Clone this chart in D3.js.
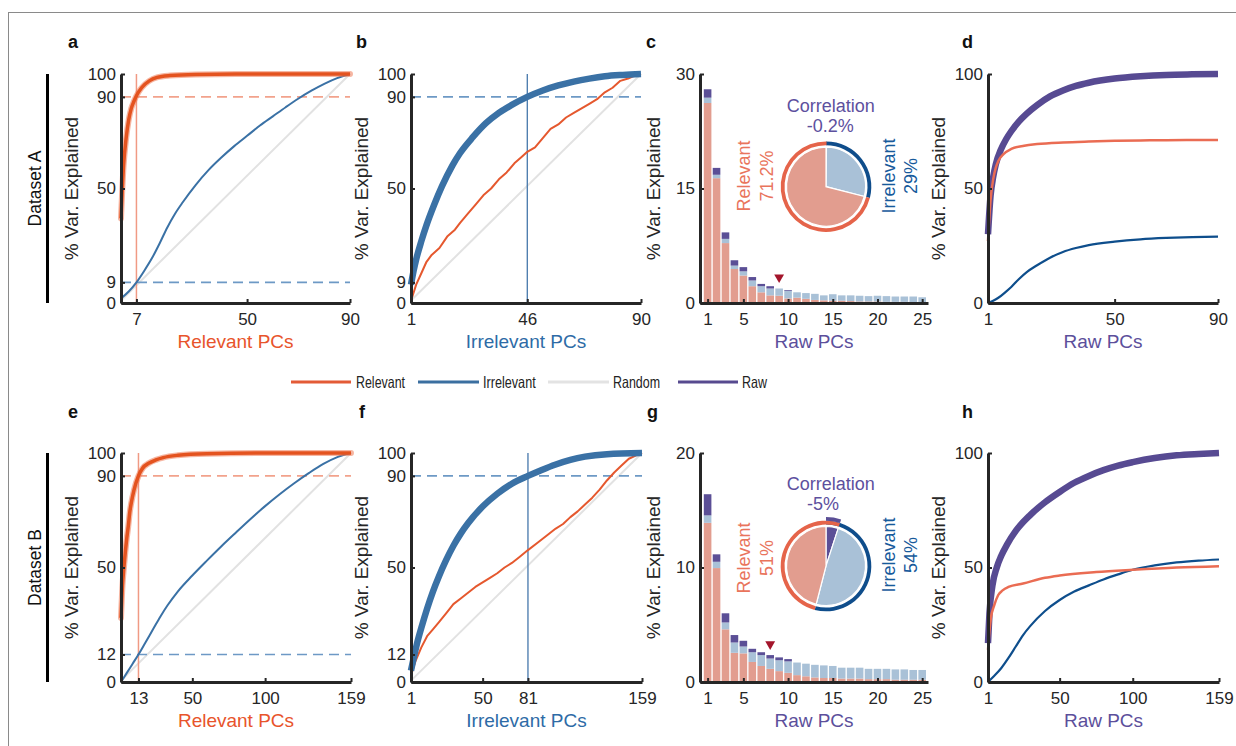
<!DOCTYPE html>
<html><head><meta charset="utf-8">
<script src="https://cdn.jsdelivr.net/npm/d3@7"></script>
<style>body{margin:0;background:#fff}svg text{font-family:"Liberation Sans",Arial,Helvetica,sans-serif}</style>
</head><body><svg id="chart" width="1236" height="746"></svg>
<script>
// ---------------- DATA ----------------
// Panel a (Dataset A, relevant PCs)
const aRel  = [[1,37],[2,60],[3,72],[4,80],[5,85],[6,88],[7,90.5],[9,94],[12,97],[15,98.5],[20,99.3],[30,99.8],[50,100],[90,100]];
const aIrr  = [[1,2],[4,5],[7,9],[10,14],[13,19.5],[16,26],[19,33],[22,39],[25,44],[30,51.5],[35,58],[40,63.5],[45,68.5],[50,73],[55,77.5],[60,81.5],[65,85.5],[70,89.3],[75,92.7],[80,95.7],[85,98.2],[90,100]];
const aRand = [[1,1.1],[90,100]];
const aXTicks = [7,50,90];
const aYTicks = [0,9,50,90,100];
// Panel b (Dataset A, irrelevant PCs)
const bIrr  = [[1,8],[2,14],[3,19],[5,27],[7,34],[10,43],[13,51],[17,60],[20,65.5],[25,72.5],[30,78.5],[35,83],[40,86.5],[46,90],[52,92.8],[58,95],[64,96.7],[70,98],[76,99],[83,99.6],[90,100]];
const bRel  = [[1,1],[3,8],[5,13],[7,18],[9,21],[12,24],[15,29],[18,32],[20,35],[23,39],[26,43],[29,47],[32,50],[35,54],[38,57],[41,61],[44,64],[46,66],[49,68],[52,72],[55,76],[58,78],[61,81],[64,83],[67,85],[70,87],[73,89],[76,92],[79,94],[82,97],[85,98],[88,99.5],[90,100]];
const bRand = [[1,1.1],[90,100]];
const bXTicks = [1,46,90];
const bYTicks = [0,9,50,90,100];
// Panel c (Dataset A, raw PCs bars)
const cPCs  = d3.range(1,26);
const cRel  = [26.2,16.35,7.85,4.45,3.6,2.2,1.4,1.0,0.95,0.6,0.7,0.55,0.4,0.35,0.3,0.3,0.25,0.2,0.2,0.2,0.15,0.15,0.15,0.1,0.1];
const cIrr  = [0.7,0.45,0.55,0.45,0.55,0.75,0.8,0.9,0.95,1.0,0.7,0.75,0.8,0.65,0.85,0.7,0.75,0.75,0.7,0.75,0.75,0.7,0.7,0.75,0.65];
const cCorr = [1.1,0.9,0.85,0.7,0.55,0.45,0.3,0.3,0,0.1,0,0,0,0,0,0,0,0,0,0,0,0,0,0,0];
const cMarker = [9,3.35];
const cXTicks = [1,5,10,15,20,25];
const cYTicks = [0,15,30];
const cPie = {corr:0.2, irr:29, rel:71.2};
const cLabels = {corr:"-0.2%", irr:"29%", rel:"71.2%"};
// Panel d (Dataset A, cumulative raw)
const dRaw = [[1,30],[2,47],[3,55],[4,60.5],[6,67],[8,71.5],[10,75],[13,79.3],[16,82.7],[20,86.4],[25,90.2],[30,92.8],[35,94.8],[40,96.2],[50,98],[60,99],[70,99.6],[80,99.85],[90,100]];
const dRel = [[1,27],[2,45],[3,54],[4,59],[5,62],[7,65],[10,67.3],[15,68.7],[20,69.4],[30,70.1],[40,70.5],[50,70.8],[60,71],[70,71.1],[90,71.2]];
const dIrr = [[1,0],[3,1],[5,2.3],[8,5],[10,7],[13,10.5],[16,13.5],[20,16.5],[25,19.8],[30,22.3],[35,24],[40,25.3],[50,26.8],[60,27.8],[70,28.4],[80,28.8],[90,29]];
const dXTicks = [1,50,90];
const dYTicks = [0,50,100];
// Panel e (Dataset B, relevant PCs)
const eRel  = [[1,28],[2,42],[3,50],[4,57],[5,63],[6,68],[7,74],[8,78],[10,84],[13,90],[16,93.5],[20,95.5],[25,97],[30,98],[40,99],[60,99.7],[100,100],[159,100]];
const eIrr  = [[1,0],[5,4],[9,8],[13,12],[18,17.5],[23,23],[28,28.5],[33,33.5],[40,39.5],[50,46.5],[60,53],[70,59.3],[80,65.3],[90,71.2],[100,76.8],[110,82],[120,86.8],[130,91.2],[140,95.2],[150,98.3],[159,100]];
const eRand = [[1,0.6],[159,100]];
const eXTicks = [13,50,100,159];
const eYTicks = [0,12,50,90,100];
// Panel f (Dataset B, irrelevant PCs)
const fIrr  = [[1,5],[3,11],[5,16.5],[8,23.5],[12,32],[16,39.5],[20,46],[25,53.2],[30,59.5],[35,64.8],[40,69.3],[50,76.6],[60,82.2],[70,86.6],[81,90],[90,92.5],[100,95],[110,97],[120,98.4],[135,99.5],[159,100]];
const fRel  = [[1,3],[4,9],[8,15],[12,20],[16,23],[20,26],[25,30],[30,34],[35,36.5],[40,39],[45,41.5],[50,43.5],[55,45.5],[60,47.5],[65,50],[70,52],[75,54.5],[81,57.6],[88,61],[95,64.5],[100,67],[105,69],[110,72],[115,74.5],[120,77.5],[125,80.5],[130,84],[135,88],[140,91.5],[145,94.5],[150,97.5],[155,99],[159,100]];
const fRand = [[1,0.6],[159,100]];
const fXTicks = [1,50,81,159];
const fYTicks = [0,12,50,90,100];
// Panel g (Dataset B, raw PCs bars)
const gPCs  = d3.range(1,26);
const gRel  = [13.9,9.95,4.6,2.55,2.5,1.75,1.4,1.15,0.95,0.8,0.6,0.5,0.4,0.35,0.35,0.3,0.3,0.3,0.25,0.25,0.25,0.2,0.2,0.2,0.2];
const gIrr  = [0.65,0.55,0.6,0.9,0.6,0.85,0.95,0.9,0.95,1.0,1.1,1.1,1.1,1.1,1.05,0.95,0.95,0.95,0.9,0.9,0.9,0.9,0.9,0.85,0.85];
const gCorr = [1.85,0.65,0.8,0.65,0.5,0.3,0.25,0.3,0.25,0.2,0,0,0,0,0,0,0,0,0,0,0,0,0,0,0];
const gMarker = [8,3.3];
const gXTicks = [1,5,10,15,20,25];
const gYTicks = [0,10,20];
const gPie = {corr:5, irr:54, rel:51};
const gLabels = {corr:"-5%", irr:"54%", rel:"51%"};
// Panel h (Dataset B, cumulative raw)
const hRaw = [[1,17],[2,30],[4,42],[7,50],[10,55],[14,60],[20,66],[30,73],[40,78.5],[50,83],[60,87],[70,90],[80,92.5],[90,94.5],[100,96],[115,97.8],[130,99],[145,99.6],[159,100]];
const hRel = [[1,14],[2,22],[3,28],[5,33],[8,38],[11,40],[15,41.5],[25,43],[40,45.5],[50,46.5],[75,48],[100,49],[130,50],[159,50.6]];
const hIrr = [[1,0],[5,2.5],[10,6],[15,10.5],[20,15.5],[25,20.5],[30,24.5],[40,31],[50,35.8],[60,39.5],[70,42.2],[80,44.8],[90,47],[100,49],[115,50.9],[130,52.2],[145,53],[159,53.5]];
const hXTicks = [1,50,100,159];
const hYTicks = [0,50,100];
// Legend
const legendNames = ["Relevant","Irrelevant","Random","Raw"];

// ---------------- STYLE ----------------
const COL = {rel:'#E4531F', relHalo:'#EE7A55', relThin:'#E5582E', relSoft:'#EA6C53', irr:'#3A71A5', irrDark:'#0E4E8C',
  raw:'#574A92', rand:'#E2E2E2', relDash:'#F2A28C', irrDash:'#6D99C5', relV:'#F09A84', irrV:'#4677AB',
  barRel:'#E29D8F', barIrr:'#A9C1D7', barCorr:'#5B4F96', ringRel:'#E5644A', ringIrr:'#0F4D8B', marker:'#A3152B',
  relText:'#E8542B', irrText:'#2E6BA6', rawText:'#5C4F9B', corrText:'#5D509E', pieRelText:'#E9745C', pieIrrText:'#175A9B', axis:'#262626'};
const svg = d3.select('#chart');
svg.append('rect').attr('x',8.5).attr('y',12.5).attr('width',1240).attr('height',740).attr('fill','none').attr('stroke','#8a8a8a').attr('stroke-width',1);

const colsX = [[121,350],[411,641],[700,928],[988,1218]];
const rowsY = [[74,303],[453,682]];

function styleAxis(ag){
  ag.select('.domain').attr('stroke',COL.axis).attr('stroke-width',3);
  ag.selectAll('.tick line').attr('stroke',COL.axis).attr('stroke-width',2);
  ag.selectAll('.tick text').attr('fill',COL.axis).style('font-size','17px').style('font-family','"Liberation Sans",Arial,sans-serif');
}
function drawAxes(g,x,y,xr,yr,xt,yt,xTitle,xCol){
  const xa = g.append('g').attr('transform',`translate(0,${yr[1]})`)
    .call(d3.axisBottom(x).tickValues(xt).tickFormat(d3.format('d')).tickSizeInner(-4).tickSizeOuter(0).tickPadding(10));
  styleAxis(xa);
  const ya = g.append('g').attr('transform',`translate(${xr[0]},0)`)
    .call(d3.axisLeft(y).tickValues(yt).tickFormat(d3.format('d')).tickSizeInner(-4).tickSizeOuter(0).tickPadding(5));
  styleAxis(ya);
  g.append('text').attr('x',(xr[0]+xr[1])/2).attr('y',yr[1]+45).attr('text-anchor','middle')
    .attr('fill',xCol).style('font-size','19px').text(xTitle);
  let left = xr[0]-30;
  ya.selectAll('.tick text').each(function(){const b=this.getBBox(); const m=this.getCTM(); left=Math.min(left, b.x + (m?m.e:0));});
  g.append('text').attr('transform',`translate(${left-10},${(yr[0]+yr[1])/2}) rotate(-90)`).attr('text-anchor','middle')
    .attr('fill',COL.axis).style('font-size','19px').text('% Var. Explained');
}
function linePanel(o){
  const g = svg.append('g');
  const x = d3.scaleLinear().domain(o.xd).range(o.xr);
  const y = d3.scaleLinear().domain([0,100]).range([o.yr[1],o.yr[0]]);
  (o.series.filter(s=>s.first)).forEach(s=>drawSeries(g,x,y,s));
  (o.hl||[]).forEach(h=>g.append('line').attr('x1',o.xr[0]).attr('x2',o.xr[1]).attr('y1',y(h.v)).attr('y2',y(h.v))
     .attr('stroke',h.c).attr('stroke-width',1.6).attr('stroke-dasharray','10,6'));
  (o.vl||[]).forEach(v=>g.append('line').attr('x1',x(v.v)).attr('x2',x(v.v)).attr('y1',y(0)).attr('y2',y(100))
     .attr('stroke',v.c).attr('stroke-width',v.w||1.5));
  o.series.filter(s=>!s.first).forEach(s=>drawSeries(g,x,y,s));
  drawAxes(g,x,y,o.xr,o.yr,o.xt,o.yt,o.xTitle,o.xCol);
}
function drawSeries(g,x,y,s){
  const line = d3.line().x(d=>x(d[0])).y(d=>y(d[1])).curve(s.curve||d3.curveMonotoneX);
  if(s.halo) g.append('path').datum(s.data).attr('d',line).attr('fill','none').attr('stroke',s.halo).attr('stroke-width',s.haloW).attr('stroke-opacity',0.55).attr('stroke-linecap','round');
  g.append('path').datum(s.data).attr('d',line).attr('fill','none').attr('stroke',s.c).attr('stroke-width',s.w).attr('stroke-linejoin','round');
}
function barPanel(o){
  const g = svg.append('g');
  const x = d3.scaleLinear().domain([0.15,25.65]).range(o.xr);
  const y = d3.scaleLinear().domain([0,o.yMax]).range([o.yr[1],o.yr[0]]);
  const bw = 7.6;
  o.pcs.forEach((pc,i)=>{
    const segs=[[o.rel[i],COL.barRel],[o.irr[i],COL.barIrr],[o.corr[i],COL.barCorr]];
    let base=0;
    segs.forEach(([v,c])=>{ if(v>0){ g.append('rect').attr('x',x(pc)-bw/2).attr('width',bw).attr('y',y(base+v)).attr('height',y(base)-y(base+v)).attr('fill',c);} base+=v; });
  });
  g.append('path').attr('d',d3.symbol(d3.symbolTriangle,42)()).attr('fill',COL.marker)
    .attr('transform',`translate(${x(o.marker[0])},${y(o.marker[1])}) rotate(180)`);
  // pie
  const P = o.pie, pc = o.pieC;
  const pg = g.append('g').attr('transform',`translate(${pc[0]},${pc[1]})`);
  const slices = [{v:P.corr,c:COL.barCorr},{v:P.irr-P.corr,c:COL.barIrr},{v:P.rel-P.corr,c:COL.barRel}];
  const arcs = d3.pie().sort(null).value(d=>d.v)(slices);
  pg.selectAll('path.sl').data(arcs).enter().append('path').attr('d',d3.arc().innerRadius(0).outerRadius(39.5)).attr('fill',d=>d.data.c).attr('stroke','#fff').attr('stroke-width',1.2);
  const tau=2*Math.PI;
  const aIrrEnd = P.irr/100*tau;
  pg.append('path').attr('d',d3.arc().innerRadius(41.5).outerRadius(45.3).startAngle(0).endAngle(aIrrEnd)()).attr('fill',COL.ringIrr);
  pg.append('path').attr('d',d3.arc().innerRadius(41.5).outerRadius(45.3).startAngle(aIrrEnd).endAngle(aIrrEnd+P.rel/100*tau)()).attr('fill',COL.ringRel);
  if(P.corr>1) pg.append('path').attr('d',d3.arc().innerRadius(45.3).outerRadius(49).startAngle(0).endAngle(P.corr/100*tau)()).attr('fill',COL.barCorr);
  // labels
  const L=o.labels, lp=o.labPos;
  g.append('text').attr('x',830.8).attr('y',lp.corrY).attr('text-anchor','middle').attr('fill',COL.corrText).style('font-size','18px').text('Correlation');
  g.append('text').attr('x',lp.corrValX).attr('y',lp.corrY+20).attr('text-anchor','middle').attr('fill',COL.corrText).style('font-size','18px').text(L.corr);
  const rot=(cx,cy,t,c)=>g.append('text').attr('transform',`translate(${cx},${cy}) rotate(-90)`).attr('text-anchor','middle').attr('dy','0.36em').attr('fill',c).style('font-size','18px').text(t);
  rot(743.5,lp.relY,'Relevant',COL.pieRelText); rot(766.3,lp.relY,L.rel,COL.pieRelText);
  rot(888.7,lp.irrY,'Irrelevant',COL.pieIrrText); rot(910.2,lp.irrY,L.irr,COL.pieIrrText);
  drawAxes(g,x,y,o.xr,o.yr,o.xt,o.yt,'Raw PCs',COL.rawText);
}

// ---------------- PANELS ----------------
linePanel({xd:[1,90],xr:colsX[0],yr:rowsY[0],xt:aXTicks,yt:aYTicks,xTitle:'Relevant PCs',xCol:COL.relText,
  hl:[{v:90,c:COL.relDash},{v:9,c:COL.irrDash}],vl:[{v:7,c:COL.relV}],
  series:[{data:aRand,c:COL.rand,w:2,curve:d3.curveLinear,first:true},{data:aIrr,c:COL.irr,w:2},{data:aRel,c:COL.rel,w:3.5,halo:COL.relHalo,haloW:6}]});
linePanel({xd:[1,90],xr:colsX[1],yr:rowsY[0],xt:bXTicks,yt:bYTicks,xTitle:'Irrelevant PCs',xCol:COL.irrText,
  hl:[{v:90,c:COL.irrDash}],vl:[{v:46,c:COL.irrV,w:1.3}],
  series:[{data:bRand,c:COL.rand,w:2,curve:d3.curveLinear,first:true},{data:bRel,c:COL.relThin,w:2,curve:d3.curveLinear},{data:bIrr,c:COL.irr,w:6.5}]});
barPanel({xr:colsX[2],yr:rowsY[0],yMax:30,pcs:cPCs,rel:cRel,irr:cIrr,corr:cCorr,marker:cMarker,xt:cXTicks,yt:cYTicks,
  pie:cPie,pieC:[826,186.7],labels:cLabels,labPos:{corrY:111.7,corrValX:830.3,relY:176,irrY:176}});
linePanel({xd:[1,90],xr:colsX[3],yr:rowsY[0],xt:dXTicks,yt:dYTicks,xTitle:'Raw PCs',xCol:COL.rawText,
  series:[{data:dIrr,c:COL.irrDark,w:2.2},{data:dRaw,c:COL.raw,w:6.5},{data:dRel,c:COL.relSoft,w:2.5}]});
linePanel({xd:[1,159],xr:[121,351],yr:rowsY[1],xt:eXTicks,yt:eYTicks,xTitle:'Relevant PCs',xCol:COL.relText,
  hl:[{v:90,c:COL.relDash},{v:12,c:COL.irrDash}],vl:[{v:13,c:COL.relV}],
  series:[{data:eRand,c:COL.rand,w:2,curve:d3.curveLinear,first:true},{data:eIrr,c:COL.irr,w:2},{data:eRel,c:COL.rel,w:3.5,halo:COL.relHalo,haloW:6}]});
linePanel({xd:[1,159],xr:[411,642],yr:rowsY[1],xt:fXTicks,yt:fYTicks,xTitle:'Irrelevant PCs',xCol:COL.irrText,
  hl:[{v:90,c:COL.irrDash}],vl:[{v:81,c:COL.irrV,w:1.3}],
  series:[{data:fRand,c:COL.rand,w:2,curve:d3.curveLinear,first:true},{data:fRel,c:COL.relThin,w:2,curve:d3.curveLinear},{data:fIrr,c:COL.irr,w:6.5}]});
barPanel({xr:colsX[2],yr:rowsY[1],yMax:20,pcs:gPCs,rel:gRel,irr:gIrr,corr:gCorr,marker:gMarker,xt:gXTicks,yt:gYTicks,
  pie:gPie,pieC:[826,566],labels:gLabels,labPos:{corrY:490,corrValX:823,relY:558,irrY:555}});
linePanel({xd:[1,159],xr:[988,1219],yr:rowsY[1],xt:hXTicks,yt:hYTicks,xTitle:'Raw PCs',xCol:COL.rawText,
  series:[{data:hIrr,c:COL.irrDark,w:2.2},{data:hRaw,c:COL.raw,w:6.5},{data:hRel,c:COL.relSoft,w:2.5}]});

// ---------------- PANEL LETTERS / ROW LABELS ----------------
const letters = [['a',68,48],['b',356,48],['c',646,48],['d',962,48],['e',68,418],['f',359,418],['g',647,418],['h',962,418]];
letters.forEach(([t,x,y])=>svg.append('text').attr('x',x).attr('y',y).style('font-size','18px').style('font-weight','bold').attr('fill','#111').text(t));
[['Dataset A',rowsY[0]],['Dataset B',rowsY[1]]].forEach(([t,r])=>{
  svg.append('text').attr('transform',`translate(41,${(r[0]+r[1])/2}) rotate(-90)`).attr('text-anchor','middle').style('font-size','17.5px').attr('fill','#111').text(t);
  svg.append('line').attr('x1',47.5).attr('x2',47.5).attr('y1',r[0]).attr('y2',r[1]).attr('stroke','#000').attr('stroke-width',3);
});

// ---------------- LEGEND ----------------
const legCols = ['#E35B37','#3B6FA0','#E3E3E3','#574A8F'];
const legX = [[291,351,356,49],[418,479,483,52.7],[548,609,613,47],[678,738,742,25]];
legendNames.forEach((n,i)=>{
  const [x1,x2,tx,tl]=legX[i];
  svg.append('line').attr('x1',x1).attr('x2',x2).attr('y1',382).attr('y2',382).attr('stroke',legCols[i]).attr('stroke-width',3);
  svg.append('text').attr('x',tx).attr('y',388).attr('textLength',tl).attr('lengthAdjust','spacingAndGlyphs').style('font-size','16.5px').attr('fill','#222').text(n);
});
</script></body></html>
